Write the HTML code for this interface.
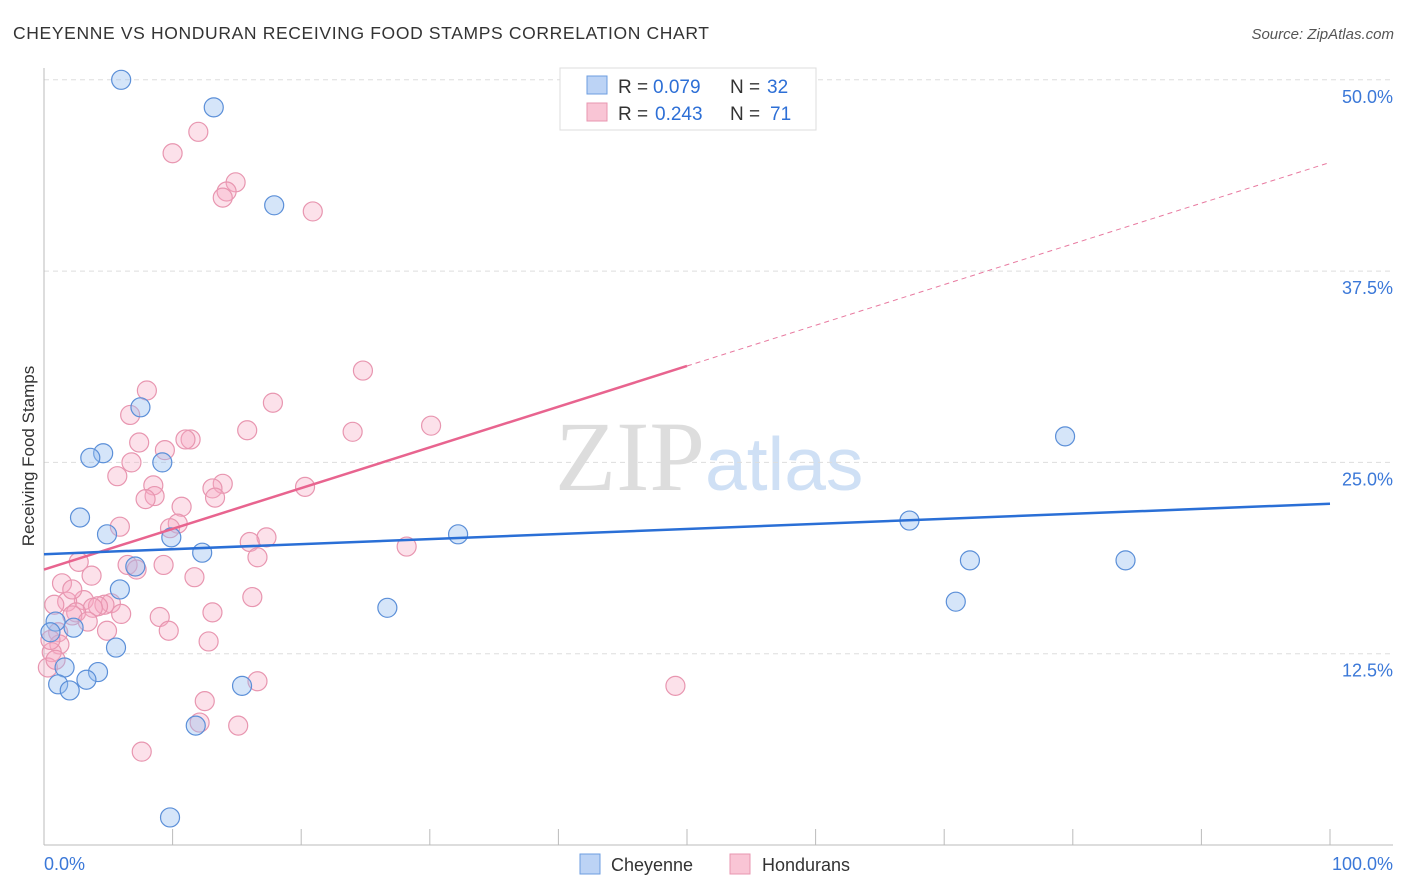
<!DOCTYPE html>
<html><head><meta charset="utf-8"><style>
body{margin:0;background:#fff;font-family:"Liberation Sans",sans-serif}
svg{display:block}
</style></head><body>
<svg id="chart" width="1406" height="892" xmlns="http://www.w3.org/2000/svg">
<text x="13" y="39" font-size="17.5" fill="#333" textLength="696" lengthAdjust="spacing">CHEYENNE VS HONDURAN RECEIVING FOOD STAMPS CORRELATION CHART</text>
<text x="1394" y="39" font-size="15" fill="#555" text-anchor="end" font-style="italic">Source: ZipAtlas.com</text>
<text x="555" y="490" font-size="100" font-family="Liberation Serif,serif"><tspan fill="#ddd">ZIP</tspan><tspan fill="#cfe0f5" font-family="Liberation Sans,sans-serif" font-size="75">atlas</tspan></text>
<g id="grid"></g>
<g id="axes"></g>
<g id="marks"></g>
<text transform="translate(34,456) rotate(-90)" font-size="17" fill="#333" text-anchor="middle">Receiving Food Stamps</text>
<g>
<rect x="560" y="68" width="256" height="62" fill="#fff" stroke="#ddd"/>
<rect x="587" y="76" width="20" height="18" fill="#bcd3f5" stroke="#6d9ee0"/>
<rect x="587" y="103" width="20" height="18" fill="#f9c5d5" stroke="#e896b0"/>
<text x="618" y="93" font-size="19" fill="#333">R =</text>
<text x="653" y="93" font-size="19" fill="#2d6fd6">0.079</text>
<text x="730" y="93" font-size="19" fill="#333">N =</text>
<text x="767" y="93" font-size="19" fill="#2d6fd6">32</text>
<text x="618" y="120" font-size="19" fill="#333">R =</text>
<text x="655" y="120" font-size="19" fill="#2d6fd6">0.243</text>
<text x="730" y="120" font-size="19" fill="#333">N =</text>
<text x="770" y="120" font-size="19" fill="#2d6fd6">71</text>
</g>
<g>
<rect x="580" y="854" width="20" height="20" fill="#bcd3f5" stroke="#6d9ee0"/>
<text x="611" y="871" font-size="18" fill="#333">Cheyenne</text>
<rect x="730" y="854" width="20" height="20" fill="#f9c5d5" stroke="#e896b0"/>
<text x="762" y="871" font-size="18" fill="#333">Hondurans</text>
</g>
</svg>
<script>
const cheyX=[6.0,13.2,17.9,7.5,4.6,3.6,9.2,2.8,4.9,9.9,12.3,7.1,5.9,5.6,0.9,0.5,2.3,1.6,4.2,3.3,1.1,2.0,15.4,11.8,9.8,26.7,32.2,67.3,72.0,70.9,79.4,84.1];
const cheyY=[50.0,48.2,41.8,28.6,25.6,25.3,25.0,21.4,20.3,20.1,19.1,18.2,16.7,12.9,14.6,13.9,14.2,11.6,11.3,10.8,10.5,10.1,10.4,7.8,1.8,15.5,20.3,21.2,18.6,15.9,26.7,18.6];
const honX=[12.0,10.0,14.9,14.2,13.9,20.9,24.8,8.0,17.8,6.7,30.1,15.8,24.0,7.4,11.4,11.0,9.4,6.8,5.7,13.9,8.5,13.1,8.6,7.9,13.3,20.3,10.7,5.9,10.4,9.8,17.3,16.0,16.6,28.2,6.5,2.7,7.2,3.7,11.7,1.4,16.2,3.1,1.8,5.2,4.7,4.2,3.8,2.5,2.2,13.1,6.0,9.0,3.4,0.8,1.1,4.9,9.7,12.8,1.2,0.6,0.3,16.6,49.1,12.5,12.1,15.1,7.6,0.5,0.9,9.3,2.2];
const honY=[46.6,45.2,43.3,42.7,42.3,41.4,31.0,29.7,28.9,28.1,27.4,27.1,27.0,26.3,26.5,26.5,25.8,25.0,24.1,23.6,23.5,23.3,22.8,22.6,22.7,23.4,22.1,20.8,21.0,20.7,20.1,19.8,18.8,19.5,18.3,18.5,18.0,17.6,17.5,17.1,16.2,16.0,15.9,15.8,15.7,15.6,15.5,15.2,15.0,15.2,15.1,14.9,14.6,15.7,13.9,14.0,14.0,13.3,13.1,12.6,11.6,10.7,10.4,9.4,8.0,7.8,6.1,13.4,12.1,18.3,16.7];
const yTicks=[12.5,25.0,37.5,50.0];
const yTickLabels=["12.5%","25.0%","37.5%","50.0%"];
const xTicks=[10,20,30,40,50,60,70,80,90,100];
const cheyLine=[19.0,22.3];
const honLine=[18.0,44.6];
const honSolidEnd=50;
const X=v=>44+v*12.86, Y=v=>845-v*15.304;
const NS="http://www.w3.org/2000/svg";
function mk(tag,attrs,parent){const e=document.createElementNS(NS,tag);for(const k in attrs)e.setAttribute(k,attrs[k]);document.getElementById(parent).appendChild(e);return e;}
yTicks.forEach((t,i)=>{
  const g=mk('line',{x1:44,x2:1393,y1:Y(t),y2:Y(t),stroke:'#ddd','stroke-dasharray':'5,4'},'grid');
  
  
  const l=mk('text',{x:1393,y:Y(t)+23,'font-size':18,fill:'#3b78d8','text-anchor':'end'},'axes');
  l.textContent=yTickLabels[i];
  
  
});
const ya=mk('line',{x1:44,x2:44,y1:68,y2:845,stroke:'#bbb'},'axes');


const xa=mk('line',{x1:44,x2:1393,y1:845,y2:845,stroke:'#bbb'},'axes');


xTicks.forEach(t=>{const k=mk('line',{x1:X(t),x2:X(t),y1:829,y2:845,stroke:'#bbb'},'axes');

});
const x0=mk('text',{x:44,y:870,'font-size':18,fill:'#3b78d8'},'axes');x0.textContent='0.0%';


const x1=mk('text',{x:1393,y:870,'font-size':18,fill:'#3b78d8','text-anchor':'end'},'axes');x1.textContent='100.0%';


honX.forEach((v,i)=>{const c=mk('circle',{cx:X(v),cy:Y(honY[i]),r:9.5,fill:'rgba(247,170,195,0.35)',stroke:'#e896b0','stroke-width':1.2},'marks');

});
cheyX.forEach((v,i)=>{const c=mk('circle',{cx:X(v),cy:Y(cheyY[i]),r:9.5,fill:'rgba(150,190,240,0.4)',stroke:'#5b8fd8','stroke-width':1.2},'marks');

});
const hm=honLine[0]+(honLine[1]-honLine[0])*honSolidEnd/100;
const hd=mk('line',{x1:X(honSolidEnd),y1:Y(hm),x2:X(100),y2:Y(honLine[1]),stroke:'#e87aa0','stroke-dasharray':'5,4','stroke-width':1},'marks');


const hl=mk('line',{x1:X(0),y1:Y(honLine[0]),x2:X(honSolidEnd),y2:Y(hm),stroke:'#e8648f','stroke-width':2.5},'marks');


const cl=mk('line',{x1:X(0),y1:Y(cheyLine[0]),x2:X(100),y2:Y(cheyLine[1]),stroke:'#2a6fd6','stroke-width':2.5},'marks');


</script>
</body></html>
